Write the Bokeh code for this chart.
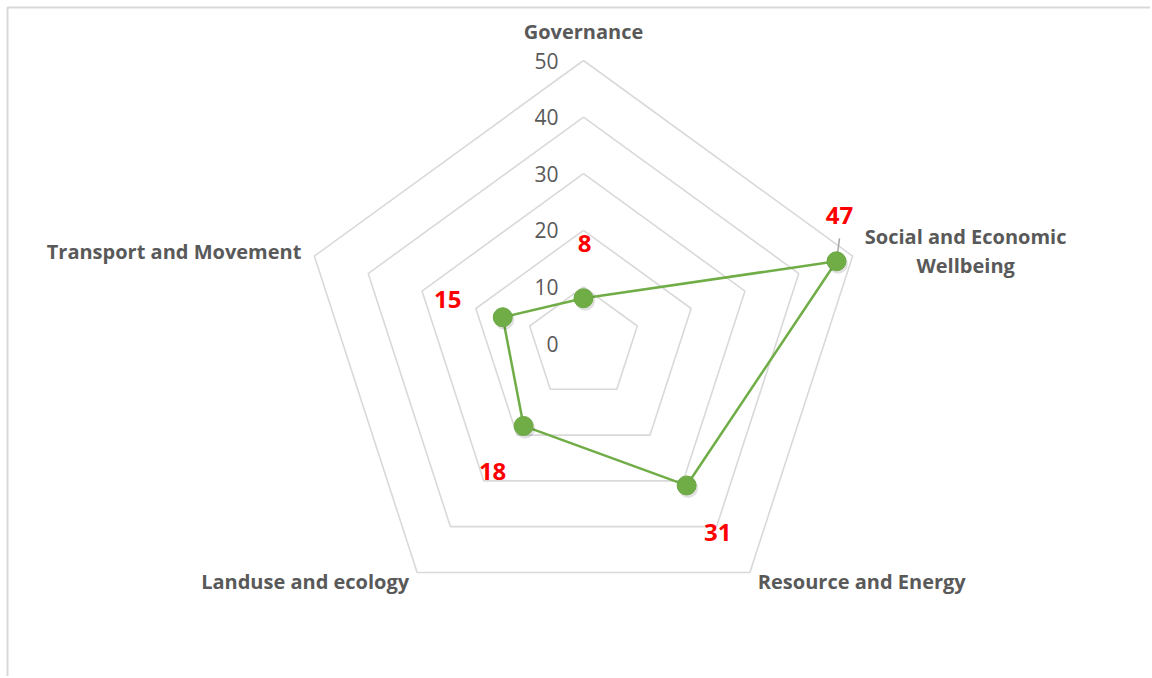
import math
from bokeh.plotting import figure
from bokeh.models import Range1d
from bokeh.embed import file_html
from bokeh.resources import INLINE
from bokeh.core.properties import value

# ---- data ----
categories = ["Governance", "Social and Economic\nWellbeing", "Resource and Energy",
              "Landuse and ecology", "Transport and Movement"]
scores = [8, 47, 31, 18, 15]
grid_levels = [10, 20, 30, 40, 50]
tick_values = [0, 10, 20, 30, 40, 50]
tick_labels = ["0", "10", "20", "30", "40", "50"]

# ---- layout / style ----
W, H = 1150, 676
PX = 5.66            # pixels per value unit
CX, CY = 583, 343    # centre of the radar in plot pixels (from top-left)
FRAME = 7            # frame offset in pixels
FONT = "Open Sans"
TXT = "#595959"
GRID = "#d9d9d9"
GREEN = "#70ad47"

x0, x1 = -CX / PX, (W - CX) / PX
y0, y1 = -(H - CY) / PX, CY / PX

p = figure(width=W, height=H, x_range=Range1d(x0, x1), y_range=Range1d(y0, y1),
           output_backend="svg", toolbar_location=None, min_border=0,
           outline_line_color=None, background_fill_color="white", border_fill_color="white")
p.axis.visible = False
p.grid.visible = False

# chart-area frame (top and left edges visible in the reference)
fx = x0 + FRAME / PX
fy = y1 - FRAME / PX
p.line([fx, fx, x1], [y0, fy, fy], line_color=GRID, line_width=2)

n = len(categories)
angles = [math.pi / 2 - 2 * math.pi * k / n for k in range(n)]

def pt(r, a):
    return r * math.cos(a), r * math.sin(a)

# grid pentagons
for lv in grid_levels:
    xs = [pt(lv, a)[0] for a in angles] + [pt(lv, angles[0])[0]]
    ys = [pt(lv, a)[1] for a in angles] + [pt(lv, angles[0])[1]]
    p.line(xs, ys, line_color=GRID, line_width=1.6)

# tick labels along the top axis
p.text(x=[0] * len(tick_values), y=tick_values, text=tick_labels,
       x_offset=-25, text_align="right", text_baseline="middle",
       text_font=value(FONT), text_font_size="21px", text_color=TXT)

# data polygon
dx = [pt(v, a)[0] for v, a in zip(scores, angles)]
dy = [pt(v, a)[1] for v, a in zip(scores, angles)]
p.line(dx + [dx[0]], dy + [dy[0]], line_color=GREEN, line_width=2.5)

# leader line for the 47 label
lead_i = 1
p.segment(x0=[dx[lead_i]], y0=[dy[lead_i]],
          x1=[dx[lead_i] + 3 / PX], y1=[dy[lead_i] + 23 / PX],
          line_color="#a6a6a6", line_width=1.5)

# marker shadows + markers
p.scatter([x + 1.5 / PX for x in dx], [y - 2.5 / PX for y in dy], size=20,
          fill_color="black", fill_alpha=0.12, line_color=None)
p.scatter(dx, dy, size=19, fill_color=GREEN, line_color="#6aa842", line_width=1)

# data labels (red)
lab_dx = [1, 3, 31, -31, -55]
lab_dy = [-55, -46, 47, 46, -18]
p.text(x=dx, y=dy, text=[str(v) for v in scores], x_offset=lab_dx, y_offset=lab_dy,
       text_align="center", text_baseline="middle", text_font=value(FONT),
       text_font_style="bold", text_font_size="24px", text_color="#ff0000")

# category labels
cat_off = [(0, -29, "center"), (113, -5, "center"), (8, 9, "left"),
           (-8, 9, "right"), (-13, -5, "right")]
for cat, a, (ox, oy, al) in zip(categories, angles, cat_off):
    vx, vy = pt(grid_levels[-1], a)
    lines = cat.split("\n")
    for j, ln in enumerate(lines):
        shift = (j - (len(lines) - 1) / 2) * 29
        p.text(x=[vx], y=[vy], text=[ln], x_offset=ox, y_offset=oy + shift,
               text_align=al, text_baseline="middle", text_font=value(FONT),
               text_font_style="bold", text_font_size="20px", text_color=TXT)

open("out.html", "w").write(file_html(p, INLINE))
